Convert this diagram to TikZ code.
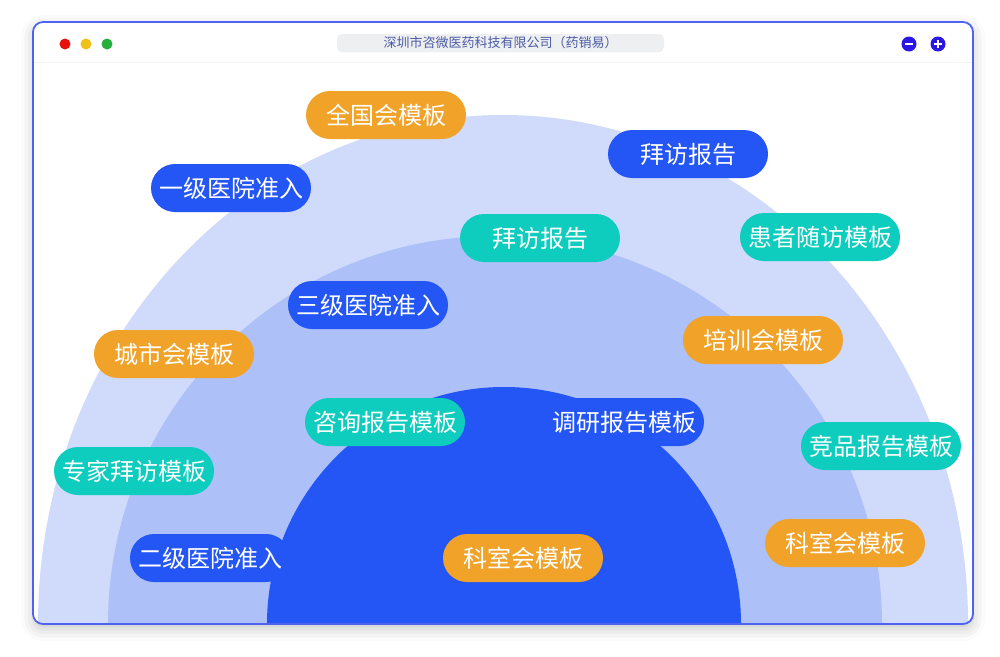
\documentclass[tikz,border=0pt]{standalone}
\usepackage{fontspec}
\setmainfont{Noto Sans CJK SC}
\usepackage{tikz}
\usetikzlibrary{shadows.blur}

\definecolor{ringOuter}{HTML}{D0DAFA}
\definecolor{ringMid}{HTML}{ADC0F8}
\definecolor{ringInner}{HTML}{2456F5}
\definecolor{pillOrange}{HTML}{F0A229}
\definecolor{pillBlue}{HTML}{2456F5}
\definecolor{pillTeal}{HTML}{0ECDBE}
\definecolor{frameBlue}{HTML}{4F63F0}
\definecolor{iconBlue}{HTML}{2A17E6}
\definecolor{titleGray}{HTML}{EEEFF1}
\definecolor{titleText}{HTML}{4B5BA6}
\definecolor{dotRed}{HTML}{E8100C}
\definecolor{dotYellow}{HTML}{EEC21A}
\definecolor{dotGreen}{HTML}{26B03B}

\begin{document}
\begin{tikzpicture}[x=1pt,y=-1pt,
        pill/.style={rounded corners=24pt, minimum width=160pt, minimum height=48pt, inner sep=0pt, text=white, font=\fontsize{24}{26}\selectfont},
        orangepill/.style={pill, fill=pillOrange},
        bluepill/.style={pill, fill=pillBlue},
        tealpill/.style={pill, fill=pillTeal},
        dot/.style={circle, minimum size=11pt, inner sep=0pt},
        winbtn/.style={circle, fill=iconBlue, minimum size=15pt, inner sep=0pt}]
    \useasboundingbox (0,0) rectangle (1000,656);
    % window
    \path[fill=white, rounded corners=10pt, blur shadow={shadow xshift=0pt, shadow yshift=-5pt, shadow blur radius=12pt, shadow opacity=22}] (33,22) rectangle (973,624);
    \begin{scope}
        \clip[rounded corners=10pt] (33,22) rectangle (973,624);
        \fill[ringOuter] (503,624) ellipse [x radius=465pt, y radius=509pt];
        \fill[ringMid] (495,624) ellipse [x radius=387pt, y radius=388pt];
        \fill[ringInner] (504,624) circle [radius=237pt];
        \draw[black!5] (33,62) -- (973,62);
    \end{scope}
    \draw[frameBlue, line width=1.8pt, rounded corners=10pt] (33,22) rectangle (973,624);
    % title bar
    \node[dot, fill=dotRed] (red) at (65,44) {};
    \node[dot, fill=dotYellow] (yellow) at (86,44) {};
    \node[dot, fill=dotGreen] (green) at (107,44) {};
    \node[fill=titleGray, rounded corners=5pt, minimum width=327pt, minimum height=18pt, inner sep=0pt, text=titleText, font=\fontsize{13}{14}\selectfont] (title) at (500.5,43) {深圳市咨微医药科技有限公司（药销易）};
    \node[winbtn] (minus) at (909,44) {};
    \node[winbtn] (plus) at (938,44) {};
    \draw[white, line width=1.6pt] ([xshift=-4pt]minus.center) -- ([xshift=4pt]minus.center);
    \draw[white, line width=1.6pt] ([xshift=-4pt]plus.center) -- ([xshift=4pt]plus.center);
    \draw[white, line width=1.6pt] ([yshift=-4pt]plus.center) -- ([yshift=4pt]plus.center);
    % pills
    \node[orangepill] (p1) at (386,115) {全国会模板};
    \node[bluepill] (p2) at (688,154) {拜访报告};
    \node[bluepill] (p3) at (231,188) {一级医院准入};
    \node[tealpill] (p4) at (540,238) {拜访报告};
    \node[tealpill] (p5) at (820,237) {患者随访模板};
    \node[bluepill] (p6) at (368,305) {三级医院准入};
    \node[orangepill] (p7) at (174,354) {城市会模板};
    \node[orangepill] (p8) at (763,340) {培训会模板};
    \node[tealpill] (p9) at (385,422) {咨询报告模板};
    \node[bluepill] (p10) at (624,422) {调研报告模板};
    \node[tealpill] (p11) at (881,446) {竞品报告模板};
    \node[tealpill] (p12) at (134,471) {专家拜访模板};
    \node[bluepill] (p13) at (210,558) {二级医院准入};
    \node[orangepill] (p14) at (523,558) {科室会模板};
    \node[orangepill] (p15) at (845,543) {科室会模板};
\end{tikzpicture}
\end{document}
